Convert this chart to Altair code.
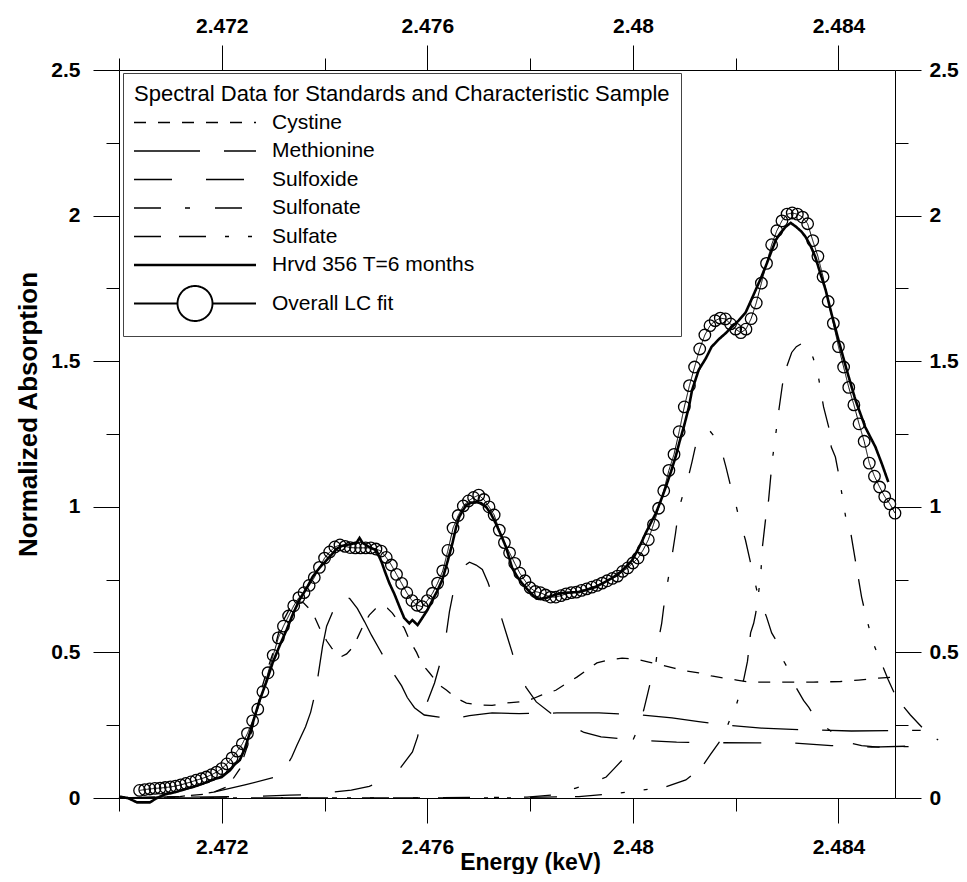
import altair as alt
import pandas as pd

FONT = "Liberation Sans"

SERIES = ["Cystine", "Methionine", "Sulfoxide", "Sulfonate", "Sulfate",
          "Hrvd 356 T=6 months", "Overall LC fit"]
DASHES = [[12, 12], [66, 24], [38, 34], [27, 24, 5, 25],
          [27, 18, 27, 19, 4, 19, 4, 19], [1, 0], [1, 0]]

X_TICKS = [2.470, 2.472, 2.474, 2.476, 2.478, 2.480, 2.482, 2.484]
Y_TICKS = [0, 0.25, 0.5, 0.75, 1, 1.25, 1.5, 1.75, 2, 2.25, 2.5]

# (energy keV, normalized absorption)
cystine = [(2.47000, 0.0), (2.47118, 0.005), (2.47177, 0.015), (2.47212, 0.04), (2.47235, 0.10),
           (2.47254, 0.20), (2.47268, 0.30), (2.47278, 0.378), (2.47285, 0.42), (2.47295, 0.474),
           (2.47303, 0.515), (2.47311, 0.57), (2.47320, 0.61), (2.47332, 0.65), (2.47346, 0.676),
           (2.47359, 0.67), (2.47369, 0.652), (2.47379, 0.628), (2.47392, 0.577), (2.47404, 0.54),
           (2.47414, 0.515), (2.47423, 0.495), (2.47433, 0.486), (2.47443, 0.495), (2.47452, 0.512),
           (2.47464, 0.55), (2.47476, 0.595), (2.47487, 0.628), (2.47499, 0.65), (2.47511, 0.658),
           (2.47522, 0.652), (2.47532, 0.635), (2.47542, 0.61), (2.47555, 0.584), (2.47565, 0.543),
           (2.47579, 0.50), (2.47588, 0.464), (2.47604, 0.43), (2.47623, 0.388), (2.47637, 0.371),
           (2.47656, 0.343), (2.47676, 0.326), (2.47701, 0.319), (2.47726, 0.318), (2.47753, 0.326),
           (2.47779, 0.33), (2.47804, 0.34), (2.47823, 0.354), (2.47850, 0.37), (2.47872, 0.395),
           (2.47891, 0.415), (2.47911, 0.44), (2.47930, 0.464), (2.47953, 0.474), (2.47979, 0.48),
           (2.48006, 0.477), (2.48031, 0.467), (2.48056, 0.457), (2.48080, 0.446), (2.48103, 0.436),
           (2.48128, 0.43), (2.48153, 0.419), (2.48177, 0.412), (2.48202, 0.405), (2.48225, 0.398),
           (2.48264, 0.398), (2.48303, 0.398), (2.48351, 0.398), (2.48404, 0.40), (2.48439, 0.405),
           (2.48478, 0.412), (2.48507, 0.415)]

methionine = [(2.47000, 0.0), (2.47118, 0.005), (2.47184, 0.02), (2.47245, 0.045), (2.47305, 0.072),
              (2.47326, 0.11), (2.47336, 0.14), (2.47346, 0.18), (2.47363, 0.245), (2.47373, 0.295),
              (2.47383, 0.37), (2.47390, 0.45), (2.47396, 0.52), (2.47404, 0.59), (2.47416, 0.64),
              (2.47425, 0.67), (2.47439, 0.69), (2.47449, 0.685), (2.47464, 0.65), (2.47478, 0.605),
              (2.47491, 0.56), (2.47507, 0.51), (2.47526, 0.45), (2.47550, 0.385), (2.47561, 0.345),
              (2.47575, 0.31), (2.47594, 0.285), (2.47623, 0.278), (2.47652, 0.272), (2.47682, 0.283),
              (2.47726, 0.292), (2.47779, 0.29), (2.47852, 0.292), (2.47934, 0.292), (2.48017, 0.285),
              (2.48076, 0.275), (2.48128, 0.262), (2.48181, 0.25), (2.48250, 0.24), (2.48322, 0.235),
              (2.48425, 0.23), (2.48530, 0.232), (2.48560, 0.232)]

sulfoxide = [(2.47000, 0.0), (2.47254, 0.005), (2.47332, 0.01), (2.47375, 0.012), (2.47452, 0.027),
             (2.47487, 0.04), (2.47522, 0.065), (2.47546, 0.10), (2.47571, 0.158), (2.47581, 0.21),
             (2.47588, 0.268), (2.47600, 0.33), (2.47614, 0.395), (2.47633, 0.515), (2.47643, 0.64),
             (2.47652, 0.72), (2.47658, 0.76), (2.47670, 0.795), (2.47682, 0.81), (2.47695, 0.80),
             (2.47707, 0.785), (2.47718, 0.74), (2.47730, 0.68), (2.47744, 0.62), (2.47755, 0.557),
             (2.47765, 0.50), (2.47775, 0.44), (2.47792, 0.38), (2.47812, 0.33), (2.47841, 0.29),
             (2.47870, 0.258), (2.47905, 0.225), (2.47938, 0.21), (2.48012, 0.198), (2.48085, 0.192),
             (2.48161, 0.19), (2.48239, 0.189), (2.48313, 0.189), (2.48386, 0.18), (2.48464, 0.175),
             (2.48538, 0.178), (2.48579, 0.18)]

sulfonate = [(2.47000, 0.0), (2.47546, 0.0), (2.47701, 0.002), (2.47794, 0.003), (2.47843, 0.01),
             (2.47889, 0.034), (2.47909, 0.045), (2.47928, 0.057), (2.47948, 0.072), (2.47963, 0.10),
             (2.47979, 0.13), (2.47992, 0.165), (2.48006, 0.223), (2.48014, 0.26), (2.48021, 0.302),
             (2.48029, 0.36), (2.48035, 0.405), (2.48045, 0.467), (2.48050, 0.543), (2.48056, 0.60),
             (2.48060, 0.656), (2.48066, 0.725), (2.48074, 0.807), (2.48083, 0.91), (2.48089, 0.989),
             (2.48097, 1.04), (2.48103, 1.068), (2.48109, 1.11), (2.48115, 1.154), (2.48122, 1.21),
             (2.48130, 1.245), (2.48140, 1.258), (2.48150, 1.26), (2.48159, 1.24), (2.48167, 1.219),
             (2.48173, 1.19), (2.48181, 1.137), (2.48192, 1.058), (2.48196, 1.04), (2.48206, 0.965),
             (2.48219, 0.886), (2.48229, 0.807), (2.48241, 0.714), (2.48250, 0.668), (2.48260, 0.622),
             (2.48270, 0.567), (2.48278, 0.543), (2.48289, 0.484), (2.48303, 0.44), (2.48317, 0.381),
             (2.48332, 0.335), (2.48342, 0.312), (2.48348, 0.295), (2.48361, 0.265), (2.48377, 0.24),
             (2.48400, 0.21), (2.48419, 0.19), (2.48445, 0.18), (2.48478, 0.175), (2.48579, 0.178)]

sulfate = [(2.47000, 0.0), (2.47740, 0.0), (2.47895, 0.005), (2.47973, 0.017), (2.48017, 0.027),
           (2.48064, 0.038), (2.48103, 0.062), (2.48134, 0.106), (2.48151, 0.15), (2.48167, 0.189),
           (2.48181, 0.235), (2.48190, 0.275), (2.48200, 0.312), (2.48210, 0.371), (2.48216, 0.41),
           (2.48223, 0.47), (2.48229, 0.567), (2.48235, 0.60), (2.48239, 0.635), (2.48243, 0.68),
           (2.48249, 0.773), (2.48252, 0.862), (2.48258, 0.955), (2.48264, 1.023), (2.48268, 1.10),
           (2.48272, 1.17), (2.48278, 1.25), (2.48284, 1.332), (2.48291, 1.42), (2.48299, 1.48),
           (2.48309, 1.53), (2.48318, 1.55), (2.48328, 1.56), (2.48342, 1.55), (2.48351, 1.51),
           (2.48361, 1.446), (2.48371, 1.343), (2.48381, 1.274), (2.48386, 1.205), (2.48394, 1.171),
           (2.48400, 1.116), (2.48414, 0.965), (2.48423, 0.92), (2.48435, 0.793), (2.48445, 0.69),
           (2.48454, 0.62), (2.48468, 0.53), (2.48482, 0.47), (2.48497, 0.405), (2.48513, 0.343),
           (2.48540, 0.285), (2.48571, 0.227), (2.48594, 0.199)]

hrvd = [(2.47000, 0.005), (2.47017, 0.0), (2.47035, -0.015), (2.47060, -0.015), (2.47074, 0.0),
        (2.47089, 0.012), (2.47109, 0.02), (2.47128, 0.03), (2.47148, 0.04), (2.47167, 0.052),
        (2.47186, 0.065), (2.47200, 0.072), (2.47216, 0.095), (2.47225, 0.115), (2.47235, 0.13),
        (2.47245, 0.17), (2.47254, 0.22), (2.47264, 0.28), (2.47274, 0.337), (2.47287, 0.40),
        (2.47299, 0.464), (2.47313, 0.525), (2.47326, 0.577), (2.47338, 0.63), (2.47351, 0.68),
        (2.47365, 0.72), (2.47377, 0.76), (2.47390, 0.79), (2.47404, 0.817), (2.47416, 0.84),
        (2.47423, 0.855), (2.47433, 0.865), (2.47443, 0.869), (2.47452, 0.872), (2.47462, 0.876),
        (2.47468, 0.893), (2.47474, 0.876), (2.47487, 0.862), (2.47501, 0.85), (2.47511, 0.81),
        (2.47518, 0.775), (2.47526, 0.738), (2.47536, 0.70), (2.47546, 0.656), (2.47555, 0.618),
        (2.47565, 0.60), (2.47571, 0.611), (2.47581, 0.594), (2.47590, 0.618), (2.47600, 0.645),
        (2.47610, 0.68), (2.47619, 0.71), (2.47629, 0.749), (2.47639, 0.81), (2.47649, 0.876),
        (2.47656, 0.93), (2.47662, 0.965), (2.47670, 0.99), (2.47676, 1.006), (2.47685, 1.014),
        (2.47695, 1.016), (2.47705, 1.012), (2.47715, 0.998), (2.47724, 0.975), (2.47734, 0.94),
        (2.47744, 0.90), (2.47753, 0.862), (2.47765, 0.79), (2.47775, 0.76), (2.47784, 0.738),
        (2.47798, 0.71), (2.47812, 0.685), (2.47821, 0.683), (2.47831, 0.687), (2.47847, 0.697),
        (2.47862, 0.704), (2.47880, 0.706), (2.47895, 0.707), (2.47911, 0.715), (2.47928, 0.725),
        (2.47944, 0.74), (2.47959, 0.755), (2.47973, 0.772), (2.47986, 0.793), (2.47998, 0.815),
        (2.48006, 0.841), (2.48016, 0.875), (2.48025, 0.91), (2.48035, 0.945), (2.48045, 0.979),
        (2.48054, 1.02), (2.48064, 1.068), (2.48074, 1.12), (2.48083, 1.171), (2.48091, 1.225),
        (2.48099, 1.274), (2.48109, 1.343), (2.48115, 1.40), (2.48128, 1.47), (2.48142, 1.51),
        (2.48153, 1.549), (2.48167, 1.575), (2.48181, 1.597), (2.48192, 1.617), (2.48206, 1.64),
        (2.48219, 1.666), (2.48229, 1.705), (2.48239, 1.745), (2.48249, 1.785), (2.48258, 1.824),
        (2.48268, 1.87), (2.48278, 1.916), (2.48287, 1.94), (2.48297, 1.961), (2.48307, 1.975),
        (2.48318, 1.961), (2.48328, 1.945), (2.48336, 1.927), (2.48346, 1.895), (2.48355, 1.858),
        (2.48365, 1.80), (2.48375, 1.745), (2.48386, 1.666), (2.48400, 1.573), (2.48416, 1.47),
        (2.48433, 1.367), (2.48452, 1.274), (2.48472, 1.205), (2.48485, 1.145), (2.48497, 1.085)]

fit_energy = [2.4704, 2.4705, 2.4706, 2.4707, 2.4708, 2.4709, 2.4710, 2.4711, 2.4712, 2.4713,
              2.4714, 2.4715, 2.4716, 2.4717, 2.4718, 2.4719, 2.4720, 2.4721, 2.4722, 2.4723,
              2.4724, 2.4725, 2.4726, 2.4727, 2.4728, 2.4729, 2.4730, 2.4731, 2.4732, 2.4733,
              2.4734, 2.4735, 2.4736, 2.4737, 2.4738, 2.4739, 2.4740, 2.4741, 2.4742, 2.4743,
              2.4744, 2.4745, 2.4746, 2.4747, 2.4748, 2.4749, 2.4750, 2.4751, 2.4752, 2.4753,
              2.4754, 2.4755, 2.4756, 2.4757, 2.4758, 2.4759, 2.4760, 2.4761, 2.4762, 2.4763,
              2.4764, 2.4765, 2.4766, 2.4767, 2.4768, 2.4769, 2.4770, 2.4771, 2.4772, 2.4773,
              2.4774, 2.4775, 2.4776, 2.4777, 2.4778, 2.4779, 2.4780, 2.4781, 2.4782, 2.4783,
              2.4784, 2.4785, 2.4786, 2.4787, 2.4788, 2.4789, 2.4790, 2.4791, 2.4792, 2.4793,
              2.4794, 2.4795, 2.4796, 2.4797, 2.4798, 2.4799, 2.4800, 2.4801, 2.4802, 2.4803,
              2.4804, 2.4805, 2.4806, 2.4807, 2.4808, 2.4809, 2.4810, 2.4811, 2.4812, 2.4813,
              2.4814, 2.4815, 2.4816, 2.4817, 2.4818, 2.4819, 2.4820, 2.4821, 2.4822, 2.4823,
              2.4824, 2.4825, 2.4826, 2.4827, 2.4828, 2.4829, 2.4830, 2.4831, 2.4832, 2.4833,
              2.4834, 2.4835, 2.4836, 2.4837, 2.4838, 2.4839, 2.4840, 2.4841, 2.4842, 2.4843,
              2.4844, 2.4845, 2.4846, 2.4847, 2.4848, 2.4849, 2.4850, 2.4851]
fit_value = [0.026, 0.029, 0.031, 0.033, 0.034, 0.036, 0.038, 0.041, 0.045, 0.050,
             0.055, 0.061, 0.066, 0.072, 0.080, 0.089, 0.101, 0.117, 0.138, 0.161,
             0.186, 0.222, 0.265, 0.305, 0.365, 0.430, 0.490, 0.550, 0.590, 0.625,
             0.660, 0.688, 0.705, 0.730, 0.757, 0.792, 0.824, 0.845, 0.862, 0.869,
             0.864, 0.860, 0.859, 0.859, 0.859, 0.859, 0.855, 0.848, 0.826, 0.800,
             0.768, 0.737, 0.705, 0.678, 0.662, 0.657, 0.678, 0.703, 0.738, 0.780,
             0.850, 0.927, 0.970, 1.003, 1.020, 1.032, 1.040, 1.025, 1.000, 0.972,
             0.920, 0.877, 0.842, 0.806, 0.772, 0.746, 0.722, 0.709, 0.705, 0.697,
             0.690, 0.690, 0.695, 0.701, 0.705, 0.707, 0.713, 0.718, 0.724, 0.730,
             0.738, 0.746, 0.754, 0.762, 0.778, 0.790, 0.807, 0.824, 0.852, 0.887,
             0.939, 0.995, 1.055, 1.125, 1.180, 1.258, 1.343, 1.416, 1.480, 1.542,
             1.590, 1.622, 1.639, 1.648, 1.645, 1.628, 1.610, 1.598, 1.610, 1.646,
             1.700, 1.768, 1.836, 1.900, 1.948, 1.982, 2.005, 2.009, 2.005, 1.995,
             1.972, 1.914, 1.860, 1.790, 1.705, 1.630, 1.550, 1.480, 1.410, 1.350,
             1.285, 1.225, 1.150, 1.105, 1.068, 1.035, 1.010, 0.978]

rows = []
for name, pts in [("Cystine", cystine), ("Methionine", methionine), ("Sulfoxide", sulfoxide),
                  ("Sulfonate", sulfonate), ("Sulfate", sulfate)]:
    rows += [{"series": name, "E": e, "v": v} for e, v in pts]
std_df = pd.DataFrame(rows)
hrvd_df = pd.DataFrame([{"series": "Hrvd 356 T=6 months", "E": e, "v": v} for e, v in hrvd])
fit_df = pd.DataFrame({"series": "Overall LC fit", "E": fit_energy, "v": fit_value})

x_scale = alt.Scale(domain=[2.470, 2.4851], nice=False, zero=False)
y_scale = alt.Scale(domain=[0, 2.5], nice=False, zero=False)
dash_scale = alt.Scale(domain=SERIES, range=DASHES)

X_MAJOR = "round(datum.value*1000) % 4 == 0"
Y_MAJOR = "round(datum.value*4) % 2 == 0"

common_axis = dict(grid=False, domainColor="black", domainWidth=1, tickColor="black",
                   tickWidth=1, labelFont=FONT, labelFontSize=21, labelFontWeight="bold",
                   labelColor="black", labelFlush=False, labelOverlap=False, labelBound=False)


def x_axis(orient, minor, pad, **kw):
    return alt.Axis(orient=orient, values=X_TICKS,
                    tickSize={"condition": {"test": X_MAJOR, "value": 25}, "value": minor},
                    labelExpr=f"{X_MAJOR} ? format(datum.value, '.3~f') : ''",
                    labelPadding=pad, **common_axis, **kw)


def y_axis(orient, pad, **kw):
    return alt.Axis(orient=orient, values=Y_TICKS,
                    tickSize={"condition": {"test": Y_MAJOR, "value": 26}, "value": 13},
                    labelExpr=f"{Y_MAJOR} ? format(datum.value, '~g') : ''",
                    labelPadding=pad, **common_axis, **kw)


bottom = x_axis("bottom", 13, 13, title="Energy (keV)", titleFont=FONT, titleFontSize=23,
                titleFontWeight="bold", titleColor="black", titleX=411, titleY=71,
                titleBaseline="alphabetic", titleAlign="center")
top = x_axis("top", 12, 8.6, title=None)
left = y_axis("left", 13, title="Normalized Absorption", titleFont=FONT, titleFontSize=26,
              titleFontWeight="bold", titleColor="black", titleAngle=270, titleX=-91,
              titleY=344, titleBaseline="middle", titleAlign="center")
right = y_axis("right", 8, title=None)

OVERALL_PATH = "M-2.1,0H6.6M13.6,0A3.5,3.5,0,1,1,6.6,0A3.5,3.5,0,1,1,13.6,0H22.3"
legend = alt.Legend(
    title="Spectral Data for Standards and Characteristic Sample",
    orient="none", legendX=4, legendY=3, padding=11,
    strokeColor="#444444", fillColor="white",
    titleFont=FONT, titleFontSize=22, titleFontWeight="normal", titleColor="black",
    titleLimit=1000, titlePadding=6,
    labelFont=FONT, labelFontSize=21, labelColor="black", labelLimit=1000, labelOffset=117,
    rowPadding=6.5, symbolSize=100, symbolOffset=0, symbolStrokeColor="black",
    symbolType={"expr": f"datum.value == 'Overall LC fit' ? '{OVERALL_PATH}' : 'M-2.1,0H22.3'"},
    symbolStrokeWidth={"expr": "datum.value == 'Hrvd 356 T=6 months' ? 2.6 : "
                               "(datum.value == 'Overall LC fit' ? 1.9 : 1.3)"},
)

dash = alt.StrokeDash("series:N", scale=dash_scale, legend=legend)

standards = alt.Chart(std_df).mark_line(color="black", strokeWidth=1.3).encode(
    x=alt.X("E:Q", scale=x_scale, axis=bottom),
    y=alt.Y("v:Q", scale=y_scale, axis=left),
    strokeDash=dash,
)
sample = alt.Chart(hrvd_df).mark_line(color="black", strokeWidth=2.6).encode(
    x=alt.X("E:Q", scale=x_scale, axis=top),
    y=alt.Y("v:Q", scale=y_scale, axis=right),
    strokeDash=dash,
)
fit_line = alt.Chart(fit_df).mark_line(color="black", strokeWidth=1).encode(
    x=alt.X("E:Q", scale=x_scale, axis=None),
    y=alt.Y("v:Q", scale=y_scale, axis=None),
    strokeDash=dash,
)
fit_pts = alt.Chart(fit_df).mark_point(shape="circle", size=133, filled=False, color="black",
                                       strokeWidth=1.3, opacity=1).encode(
    x=alt.X("E:Q", scale=x_scale, axis=None),
    y=alt.Y("v:Q", scale=y_scale, axis=None),
)

chart = alt.layer(standards, sample, fit_line, fit_pts).resolve_axis(
    x="independent", y="independent"
).properties(
    width=776, height=728,
    autosize=alt.AutoSizeParams(type="none"),
    padding={"left": 111, "top": 62, "right": 64, "bottom": 76},
    background="white",
).configure_view(strokeWidth=0)

chart.save("out.html", embed_options={"renderer": "svg", "actions": False})
